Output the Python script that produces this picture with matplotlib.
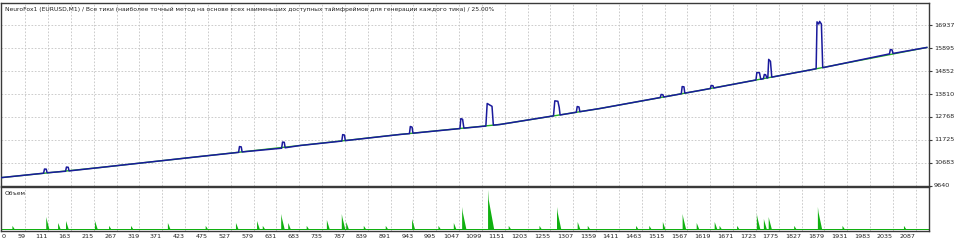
import matplotlib
matplotlib.use("Agg")
import matplotlib.pyplot as plt
from matplotlib.ticker import FixedLocator, NullLocator

plt.rcParams['font.family'] = ['DejaVu Sans']

title = "NeuroFox1 (EURUSD,M1) / Все тики (наиболее точный метод на основе всех наименьших доступных таймфреймов для генерации каждого тика) / 25.00%"
vol_title = "Объем"

# x tick labels (trade numbers)
x_ticks = [59, 111, 163, 215, 267, 319, 371, 423, 475, 527, 579, 631, 683, 735, 787,
           839, 891, 943, 995, 1047, 1099, 1151, 1203, 1255, 1307, 1359, 1411, 1463,
           1515, 1567, 1619, 1671, 1723, 1775, 1827, 1879, 1931, 1983, 2035, 2087]
y_ticks = [9640, 10683, 11725, 12768, 13810, 14852, 15895, 16937]

# balance line (blue) vertices
bal_x = [5, 101, 103, 107, 109, 151, 153, 157, 159, 230, 457,
         545, 547, 551, 553, 643, 645, 649, 651, 685,
         780, 782, 786, 788, 912,
         934, 936, 940, 942, 1049, 1051, 1055, 1058,
         1108, 1111, 1116, 1122, 1125, 1140,
         1262, 1265, 1272, 1275, 1277, 1314, 1316, 1320, 1322, 1368,
         1505, 1507, 1511, 1513, 1553, 1555, 1559, 1561, 1595,
         1619, 1621, 1625, 1627,
         1723, 1725, 1731, 1734, 1740, 1742, 1745, 1748, 1750, 1752, 1756, 1759, 1852,
         1860, 1862, 1866, 1868, 1872, 1875,
         2027, 2029, 2033, 2035, 2112]
bal_y = [10000, 10200, 10390, 10385, 10220, 10290, 10480, 10470, 10305, 10461, 10962,
         11150, 11415, 11400, 11170, 11340, 11620, 11610, 11360, 11464,
         11665, 11960, 11940, 11685, 11966,
         12005, 12330, 12300, 12025, 12235, 12690, 12660, 12255,
         12350, 13380, 13320, 13250, 12390, 12422,
         12815, 13500, 13480, 13200, 12855, 12980, 13240, 13220, 13005, 13151,
         13650, 13790, 13780, 13675, 13820, 14150, 14140, 13850, 13972,
         14060, 14200, 14190, 14085,
         14450, 14790, 14780, 14480, 14510, 14700, 14690, 14540, 14550, 15390, 15300, 14580, 14930,
         14965, 17100, 17000, 17120, 17000, 15010,
         15640, 15840, 15820, 15660, 15933]

# equity line (green) vertices
eq_x = [5, 230, 457, 685, 912, 1140, 1368, 1595, 1852, 2112]
eq_y = [10000, 10461, 10962, 11464, 11966, 12422, 13151, 13972, 14930, 15933]

# volume spikes
vol_x = [107, 134, 152, 218, 384, 539, 587, 642, 658, 746, 780, 790, 940, 1035, 1054,
         1113, 1270, 1317, 1511, 1556, 1588, 1629, 1725, 1741, 1752, 1864,
         30, 250, 300, 470, 600, 700, 830, 880, 1000, 1160, 1230, 1340, 1450, 1480,
         1640, 1680, 1810, 1920, 2060]
vol_h = [12, 6, 8, 8, 6, 6, 8, 15, 6, 9, 15, 7, 10, 6, 22,
         39, 22, 7, 7, 15, 6, 7, 15, 10, 12, 22,
         3, 3, 3, 3, 3, 3, 3, 3, 3, 3, 3, 3, 3, 3,
         3, 3, 3, 3, 3]

W, H = 960, 243
fig = plt.figure(figsize=(W / 100, H / 100), dpi=100)
fig.patch.set_facecolor('white')

xlim = (4, 2117)
frame_col = '#3a3a3a'
grid_kw = dict(color='#c4c4c4', linestyle=(0, (2, 2)), linewidth=0.6)

ax = fig.add_axes([1 / W, 1 - 185.5 / H, 928 / W, 182.5 / H])
vax = fig.add_axes([1 / W, 1 - 231 / H, 928 / W, 44 / H])

for a in (ax, vax):
    a.set_xlim(*xlim)
    for s in a.spines.values():
        s.set_color(frame_col)
        s.set_linewidth(1.0)
    a.xaxis.set_major_locator(FixedLocator(x_ticks))
    a.grid(True, axis='x', **grid_kw)
    a.set_axisbelow(True)

# main
ax.set_ylim(9640, 17960)
ax.yaxis.set_major_locator(FixedLocator(y_ticks))
ax.grid(True, axis='y', **grid_kw)
ax.yaxis.tick_right()
ax.tick_params(axis='y', length=2, width=0.8, color=frame_col, labelsize=4.6,
               pad=1.5, labelcolor='#222222')
ax.tick_params(axis='x', length=0, labelbottom=False)
for lab in ax.get_yticklabels():
    lab.set_verticalalignment('center')

ax.plot(eq_x, eq_y, color='#22b022', linewidth=1.0, zorder=3)
ax.plot(bal_x, bal_y, color='#1a1a9c', linewidth=1.1, zorder=4)
ax.text(4 / 928, 1 - 4 / 182.5, title, transform=ax.transAxes, fontsize=4.3,
        va='top', ha='left', color='#222222')

# volume
vax.set_ylim(0, 44)
vax.yaxis.set_major_locator(NullLocator())
vax.set_xticks([xlim[0] + 1] + x_ticks, minor=False)
vax.set_xticklabels(['0'] + [str(t) for t in x_ticks])
vax.grid(False, axis='x')
for t in x_ticks:
    vax.axvline(t, zorder=0, **grid_kw)
vax.tick_params(axis='x', length=0, labelsize=4.6, pad=2.5, labelcolor='#222222')
labs = vax.get_xticklabels()
for i, lab in enumerate(labs):
    lab.set_horizontalalignment('left' if i == 0 else 'right')

green = '#10b010'
vax.axhspan(0.6, 2.4, color=green, lw=0, zorder=2)
for xv, hv in zip(vol_x, vol_h):
    w = 4 + hv * 0.25
    vax.fill([xv, xv, xv + 1.5, xv + w], [2, 2 + hv, 2 + hv * 0.75, 2],
             color=green, lw=0, zorder=3)
vax.text(4 / 928, 1 - 4 / 44, vol_title, transform=vax.transAxes, fontsize=4.3,
         va='top', ha='left', color='#222222')

fig.savefig('out.png', dpi=100, facecolor='white')
